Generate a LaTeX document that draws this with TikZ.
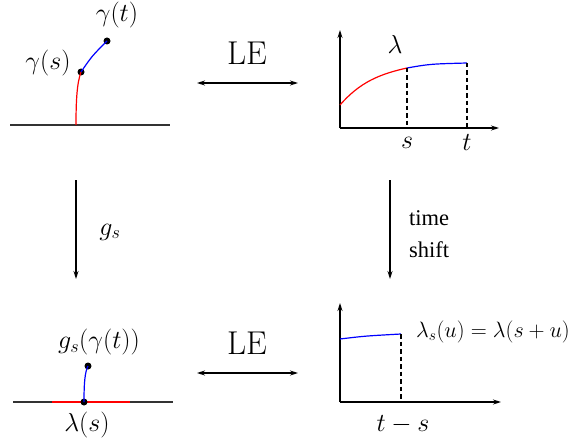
\RequirePackage{fix-cm}
\documentclass[tikz,border=0pt]{standalone}
\usepackage{fontspec}
\newfontfamily\timesfont{Liberation Serif}
\usetikzlibrary{arrows.meta}
\begin{document}
\begin{tikzpicture}[x=1pt,y=-1pt,
  ax/.style={line width=1.1pt,-{Stealth[length=8pt,width=5pt]}},
  dbl/.style={line width=1.1pt,{Stealth[length=8pt,width=5pt]}-{Stealth[length=8pt,width=5pt]}},
  mapar/.style={line width=1.1pt,-{Stealth[length=8pt,width=5pt]}},
  base/.style={line width=1.2pt,black!80},
  redc/.style={red,line width=1.2pt},
  bluec/.style={blue,line width=1.2pt},
  dsh/.style={line width=1.1pt,dash pattern=on 4.5pt off 3pt},
  dot/.style={circle,fill=black,inner sep=0pt,minimum size=7pt},
  mlab/.style={inner sep=0pt,font=\fontsize{26}{30}\selectfont},
  slab/.style={inner sep=0pt,font=\fontsize{22.2}{25}\selectfont},
  lelab/.style={inner sep=0pt,font=\fontsize{33}{36}\selectfont},
  tlab/.style={inner sep=0pt,font=\timesfont\fontsize{22.5}{32}\selectfont,align=left}]
\useasboundingbox (0,0) rectangle (573,444);
% ---------- top left ----------
\coordinate (tlL) at (10,125);
\coordinate (tlR) at (170,125);
\coordinate (tlB) at (76,125);
\draw[base] (tlL) -- (tlR);
\node[dot] (gs) at (81,72) {};
\node[dot] (gt) at (107,41) {};
\draw[redc] (tlB) .. controls (76,100) and (77,83) .. (gs.center);
\draw[bluec] (gs.center) .. controls (92,56) .. (gt.center);
\node[mlab] (lgs) at (48,63) {$\gamma(s)$};
\node[mlab] (lgt) at (117,15) {$\gamma(t)$};
% ---------- top right ----------
\coordinate (trO) at (340,128);
\coordinate (trY) at (340,30);
\coordinate (trX) at (499,128);
\draw[ax] (trO) -- (trY);
\draw[ax] (trO) -- (trX);
\coordinate (c0) at (340,105);
\coordinate (cs) at (407,68);
\coordinate (ct) at (467,63);
\coordinate (xs) at (407,128);
\coordinate (xt) at (467,128);
\draw[redc] (c0) .. controls (360,82) and (380,74) .. (cs);
\draw[bluec] (cs) .. controls (430,64) .. (ct);
\draw[dsh] (cs) -- (xs);
\draw[dsh] (ct) -- (xt);
\node[mlab] (lam) at (395,44) {$\lambda$};
\node[mlab] (ls) at (407,143) {$s$};
\node[mlab] (lt) at (467,143) {$t$};
% ---------- LE top ----------
\coordinate (le1a) at (197,83);
\coordinate (le1b) at (298,83);
\draw[dbl] (le1a) -- (le1b);
\node[lelab] (le1) at (247,53) {LE};
% ---------- vertical arrows ----------
\coordinate (va1) at (76,180);
\coordinate (vb1) at (76,279);
\draw[mapar] (va1) -- (vb1);
\node[mlab] (gsl) at (110,232) {$g_s$};
\coordinate (va2) at (390,180);
\coordinate (vb2) at (390,279);
\draw[mapar] (va2) -- (vb2);
\node[tlab,anchor=west] (ts) at (409,234) {time\\shift};
% ---------- LE bottom ----------
\coordinate (le2a) at (197,373);
\coordinate (le2b) at (298,373);
\draw[dbl] (le2a) -- (le2b);
\node[lelab] (le2) at (247,343) {LE};
% ---------- bottom left ----------
\coordinate (blL) at (13,402);
\coordinate (blR) at (173,402);
\coordinate (rl) at (52,402);
\coordinate (rr) at (130,402);
\draw[base] (blL) -- (blR);
\draw[redc] (rl) -- (rr);
\node[dot] (bb) at (84,402) {};
\node[dot] (bt) at (88,366) {};
\draw[bluec] (bb.center) .. controls (84,382) and (85,372) .. (bt.center);
\node[mlab] (lgg) at (99,342) {$g_s(\gamma(t))$};
\node[mlab] (lls) at (87,425) {$\lambda(s)$};
% ---------- bottom right ----------
\coordinate (brO) at (340,402);
\coordinate (brY) at (340,303);
\coordinate (brX) at (501,402);
\draw[ax] (brO) -- (brY);
\draw[ax] (brO) -- (brX);
\coordinate (b0) at (340,339);
\coordinate (b1) at (401,334);
\coordinate (bx) at (401,402);
\draw[bluec] (b0) .. controls (365,336) .. (b1);
\draw[dsh] (b1) -- (bx);
\node[slab,anchor=west] (lss) at (416,332) {$\lambda_s(u)=\lambda(s+u)$};
\node[mlab] (ltms) at (403,425) {$t-s$};
\end{tikzpicture}
\end{document}
